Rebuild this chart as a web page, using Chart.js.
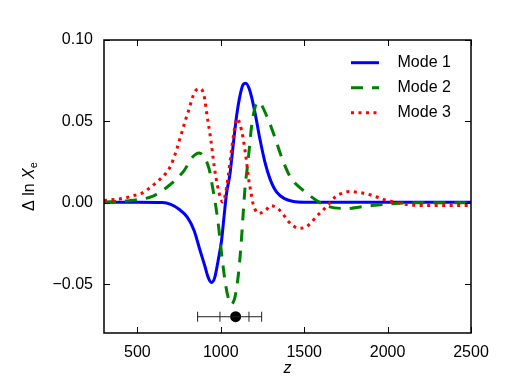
<!DOCTYPE html>
<html>
<head>
<meta charset="utf-8">
<script src="https://cdn.jsdelivr.net/npm/chart.js@4.4.1/dist/chart.umd.min.js"></script>
<style>
  html, body { margin: 0; padding: 0; background: #fff; }
  #wrap { width: 523px; height: 392px; position: relative; }
</style>
</head>
<body>
<div id="wrap"><canvas id="xe-chart"></canvas></div>
<script>
// values
const zMode1 = [300, 500, 650, 700, 750, 800, 840, 875, 905, 925, 945, 965, 985, 1005, 1020, 1035, 1055, 1075, 1095, 1115, 1135, 1150, 1175, 1205, 1235, 1265, 1295, 1335, 1385, 1435, 1500, 2000, 2500];
const dMode1 = [0.0004, 0.0004, 0.0002, -0.001, -0.004, -0.009, -0.017, -0.029, -0.039, -0.046, -0.049, -0.0455, -0.035, -0.023, -0.008, 0.006, 0.0175, 0.036, 0.0534, 0.0657, 0.0728, 0.0734, 0.0687, 0.0554, 0.039, 0.0248, 0.0147, 0.0065, 0.0024, 0.0008, 0.0004, 0.0004, 0.0004];

const zMode2 = [300, 450, 590, 690, 780, 830, 870, 890, 930, 950, 967, 985, 1000, 1015, 1030, 1045, 1060, 1075, 1085, 1105, 1120, 1135, 1145, 1165, 1185, 1205, 1225, 1275, 1325, 1365, 1415, 1515, 1630, 1755, 1880, 2015, 2150, 2500];
const dMode2 = [0.0005, 0.0013, 0.004, 0.0106, 0.0198, 0.028, 0.0306, 0.0294, 0.0208, 0.01, 0.0, -0.013, -0.027, -0.040, -0.051, -0.0585, -0.0625, -0.061, -0.058, -0.0445, -0.028, -0.0057, 0.0086, 0.027, 0.0473, 0.0585, 0.062, 0.0534, 0.040, 0.028, 0.0162, 0.006, -0.0017, -0.0035, -0.002, -0.0006, 0, 0];

const zMode3 = [300, 360, 420, 480, 520, 570, 615, 670, 700, 730, 760, 790, 810, 830, 850, 878, 900, 918, 940, 960, 980, 1000, 1010, 1025, 1045, 1065, 1085, 1099, 1115, 1135, 1155, 1165, 1180, 1192, 1205, 1230, 1270, 1300, 1340, 1370, 1400, 1430, 1470, 1510, 1540, 1570, 1600, 1640, 1690, 1730, 1770, 1815, 1855, 1895, 1940, 1985, 2025, 2065, 2115, 2200, 2500];
const dMode3 = [0.0014, 0.002, 0.0028, 0.0045, 0.0055, 0.0088, 0.0126, 0.018, 0.0228, 0.031, 0.041, 0.0514, 0.0575, 0.0646, 0.069, 0.0701, 0.0657, 0.0534, 0.039, 0.0228, 0.0106, 0.0024, 0.0005, 0.004, 0.0167, 0.033, 0.047, 0.0518, 0.0483, 0.039, 0.0248, 0.016, 0.007, 0.0, -0.004, -0.0065, -0.0045, -0.0017, -0.0035, -0.0065, -0.0108, -0.0139, -0.0157, -0.0149, -0.0125, -0.0088, -0.0058, -0.0017, 0.0039, 0.0059, 0.0069, 0.0065, 0.0059, 0.0049, 0.0034, 0.0018, 0.0008, -0.0002, -0.001, -0.0017, -0.0017];

const modeLabels = ['Mode 1', 'Mode 2', 'Mode 3'];

// redshift marker with its 1 and 2 sigma ranges
const zPeak = 1089;
const zRange1 = [995, 1169];
const zRange2 = [861, 1245];
const markerLevel = -0.07;

const xTicks = [500, 1000, 1500, 2000, 2500];
const yTicks = [-0.05, 0.00, 0.05, 0.10];

const pts = (xs, ys) => xs.map((x, i) => ({x: x, y: ys[i]}));
const FONT = "'Liberation Sans', Arial, sans-serif";

const boxPlugin = {
  id: 'boxPlugin',
  afterDatasetsDraw(chart) {
    const {ctx, chartArea: a, scales: {x, y}} = chart;
    ctx.save();
    ctx.strokeStyle = '#000';
    ctx.lineWidth = 1;
    const tl = 6;
    x.ticks.forEach(t => {
      const px = Math.round(x.getPixelForValue(t.value)) + 0.5;
      ctx.beginPath();
      ctx.moveTo(px, a.bottom); ctx.lineTo(px, a.bottom - tl);
      ctx.moveTo(px, a.top); ctx.lineTo(px, a.top + tl);
      ctx.stroke();
    });
    y.ticks.forEach(t => {
      const py = Math.round(y.getPixelForValue(t.value)) + 0.5;
      ctx.beginPath();
      ctx.moveTo(a.left, py); ctx.lineTo(a.left + tl, py);
      ctx.moveTo(a.right, py); ctx.lineTo(a.right - tl, py);
      ctx.stroke();
    });
    ctx.lineWidth = 1.5;
    ctx.strokeRect(a.left, a.top, a.right - a.left, a.bottom - a.top);

    // legend inside the upper right corner
    ctx.font = '16px ' + FONT;
    ctx.textBaseline = 'middle';
    ctx.textAlign = 'left';
    ctx.fillStyle = '#000';
    for (let i = 0; i < 3; i++) {
      const ds = chart.data.datasets[i];
      const ly = a.top + 22.7 + i * 25;
      ctx.save();
      ctx.strokeStyle = ds.borderColor;
      ctx.lineWidth = ds.borderWidth;
      ctx.setLineDash(ds.borderDash || []);
      ctx.beginPath();
      ctx.moveTo(a.right - 120, ly);
      ctx.lineTo(a.right - 92, ly);
      ctx.stroke();
      ctx.restore();
      ctx.fillText(ds.label, a.right - 73.5, ly);
    }

    // y axis title: Δ ln X_e
    ctx.translate(30, (a.top + a.bottom) / 2);
    ctx.rotate(-Math.PI / 2);
    const p1 = 'Δ ln ', p2 = 'X', p3 = 'e';
    ctx.font = '16px ' + FONT;
    const w1 = ctx.measureText(p1).width;
    ctx.font = 'italic 16px ' + FONT;
    const w2 = ctx.measureText(p2).width;
    ctx.font = '11px ' + FONT;
    const w3 = ctx.measureText(p3).width;
    let sx = -(w1 + w2 + w3) / 2;
    ctx.font = '16px ' + FONT;
    ctx.fillText(p1, sx, 0); sx += w1;
    ctx.font = 'italic 16px ' + FONT;
    ctx.fillText(p2, sx, 0); sx += w2;
    ctx.font = '11px ' + FONT;
    ctx.fillText(p3, sx, 4);
    ctx.restore();
  }
};

new Chart('xe-chart', {
  type: 'line',
  data: {
    datasets: [
      {label: modeLabels[0], data: pts(zMode1, dMode1), borderColor: '#0000ff', borderWidth: 3, pointRadius: 0, cubicInterpolationMode: 'monotone', order: 3},
      {label: modeLabels[1], data: pts(zMode2, dMode2), borderColor: '#008000', borderWidth: 3, borderDash: [12, 9], pointRadius: 0, cubicInterpolationMode: 'monotone', order: 2},
      {label: modeLabels[2], data: pts(zMode3, dMode3), borderColor: '#ff0000', borderWidth: 3, borderDash: [3, 4.5], pointRadius: 0, cubicInterpolationMode: 'monotone', order: 1},
      {label: 'range', data: pts([zRange2[0], zRange1[0], zRange1[1], zRange2[1]], [markerLevel, markerLevel, markerLevel, markerLevel]),
        borderColor: '#222', borderWidth: 1, pointStyle: 'line', rotation: 90, pointRadius: 5, pointBorderWidth: 1, order: 0},
      {label: 'peak', data: pts([zPeak], [markerLevel]), showLine: false, pointStyle: 'circle', pointRadius: 5.5,
        pointBackgroundColor: '#000', pointBorderColor: '#000', borderWidth: 0, order: 0}
    ]
  },
  options: {
    responsive: true,
    maintainAspectRatio: false,
    animation: false,
    devicePixelRatio: 1,
    layout: {padding: {left: 0, right: 52, top: 40, bottom: 0}},
    plugins: {legend: {display: false}, tooltip: {enabled: false}},
    scales: {
      x: {
        type: 'linear', min: 300, max: 2500,
        afterBuildTicks: s => { s.ticks = xTicks.map(v => ({value: v})); },
        ticks: {color: '#000', padding: 10, maxRotation: 0, autoSkip: false, font: {family: FONT, size: 16},
          callback: v => String(v)},
        grid: {display: true, drawOnChartArea: false, drawTicks: false},
        border: {display: false},
        title: {display: true, text: 'z', color: '#000', font: {family: FONT, size: 16, style: 'italic'}, padding: {top: 0, bottom: 14}},
        afterFit: s => { s.height = 59; }
      },
      y: {
        type: 'linear', min: -0.08, max: 0.10,
        afterBuildTicks: s => { s.ticks = yTicks.map(v => ({value: v})); },
        ticks: {color: '#000', padding: 11, autoSkip: false, font: {family: FONT, size: 16},
          callback: v => v.toFixed(2).replace('-', '\u2212')},
        grid: {display: true, drawOnChartArea: false, drawTicks: false},
        border: {display: false},
        afterFit: s => { s.width = 104; }
      }
    }
  },
  plugins: [boxPlugin]
});
</script>
</body>
</html>
